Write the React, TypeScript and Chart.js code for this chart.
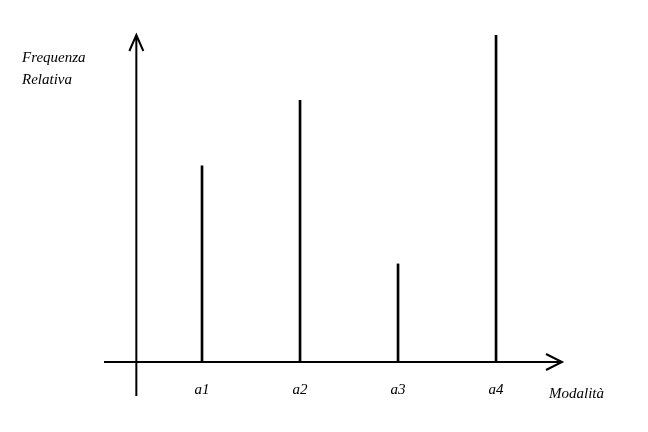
import React, { useRef, useEffect } from 'react';
import { Chart, registerables } from 'chart.js';

Chart.register(...registerables);

const categories = ['a1', 'a2', 'a3', 'a4'];
const positions = [1, 2, 3, 4];
const relFreq = [0.6, 0.8, 0.3, 1.0];

const FONT = 'italic 15px "Liberation Serif", "DejaVu Serif", serif';

const axesPlugin = {
  id: 'axesArrows',
  afterDraw(chart: any) {
    const { ctx, scales } = chart;
    const x = scales.x;
    const y = scales.y;
    const y0 = y.getPixelForValue(0);
    const yTop = y.getPixelForValue(1);
    const xAxis = x.getPixelForValue(0.33);
    const xLeft = x.getPixelForValue(0);
    const xRight = x.getPixelForValue(x.max);
    ctx.save();
    ctx.strokeStyle = '#000';
    ctx.lineWidth = 2;
    ctx.beginPath();
    ctx.moveTo(xLeft, y0);
    ctx.lineTo(xRight, y0);
    ctx.moveTo(xRight - 16, y0 - 8);
    ctx.lineTo(xRight, y0);
    ctx.lineTo(xRight - 16, y0 + 8);
    ctx.moveTo(xAxis, y0 + 34);
    ctx.lineTo(xAxis, yTop);
    ctx.moveTo(xAxis - 7, yTop + 16);
    ctx.lineTo(xAxis, yTop);
    ctx.lineTo(xAxis + 7, yTop + 16);
    ctx.stroke();
    ctx.fillStyle = '#000';
    ctx.font = FONT;
    ctx.textAlign = 'center';
    ctx.textBaseline = 'middle';
    categories.forEach((c, i) => {
      ctx.fillText(c, x.getPixelForValue(positions[i]), y0 + 28);
    });
    ctx.textAlign = 'left';
    ctx.fillText('Modalità', 549, y0 + 32);
    ctx.fillText('Frequenza', 22, 58);
    ctx.fillText('Relativa', 22, 80);
    ctx.restore();
  },
};

const App: React.FC = () => {
  const ref = useRef<HTMLCanvasElement | null>(null);

  useEffect(() => {
    if (!ref.current) return;
    const chart = new Chart(ref.current, {
      type: 'bar',
      data: {
        datasets: [
          {
            data: positions.map((p, i) => ({ x: p, y: relFreq[i] })),
            backgroundColor: '#000',
            barThickness: 2,
          },
        ],
      },
      options: {
        animation: false,
        responsive: false,
        layout: { padding: { left: 104, right: 86, top: 35, bottom: 70 } },
        plugins: { legend: { display: false }, tooltip: { enabled: false } },
        scales: {
          x: { type: 'linear', min: 0, max: 4.673, display: false, offset: false },
          y: { min: 0, max: 1, display: false },
        },
      },
      plugins: [axesPlugin],
    });
    return () => chart.destroy();
  }, []);

  return (
    <div style={{ position: 'absolute', left: 0, top: 0, width: 648, height: 432, background: '#fff' }}>
      <canvas ref={ref} width={648} height={432} />
    </div>
  );
};

export default App;
